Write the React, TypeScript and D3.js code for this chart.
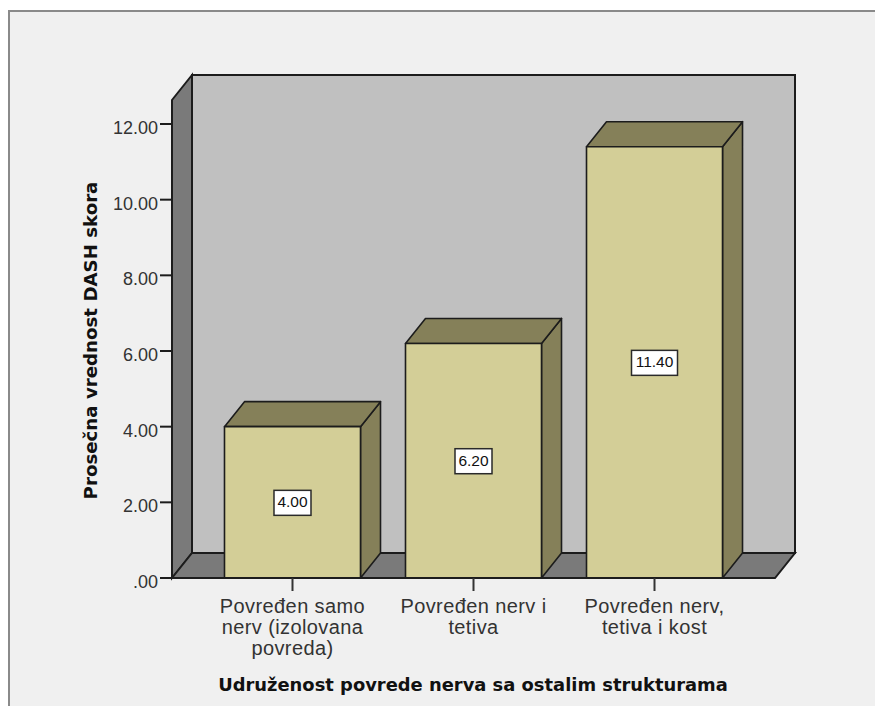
import React from "react";
import * as d3 from "d3";

const categories = ["Povređen samo nerv (izolovana povreda)", "Povređen nerv i tetiva", "Povređen nerv, tetiva i kost"];
const categoryLines = [["Povređen samo", "nerv (izolovana", "povreda)"], ["Povređen nerv i", "tetiva"], ["Povređen nerv,", "tetiva i kost"]];
const values = [4.0, 6.2, 11.4];
const yTicks = [0, 2, 4, 6, 8, 10, 12];
const yTitle = "Prosečna vrednost DASH skora";
const xTitle = "Udruženost povrede nerva sa ostalim strukturama";

const DX = 20;
const DY = 25;
const FLOOR = 578;
const LEFT = 172;
const RIGHT = 775;
const TOP = 100;

const y = d3.scaleLinear().domain([0, 12]).range([FLOOR, 124]);
const x = d3.scaleBand<string>().domain(categories).range([LEFT, RIGHT]).paddingInner(0.2486).paddingOuter(0.29);
const poly = (pts: [number, number][]) => (d3.line()(pts) ?? "") + "Z";

const SANS = "'Liberation Sans', Arial, sans-serif";
const BOLD = "'DejaVu Sans', Verdana, sans-serif";
const INK = "#1c1c1c";

export default function App() {
  return (
    <svg width={875} height={706} style={{ position: "absolute", left: 0, top: 0, display: "block" }}>
      <rect x={0} y={0} width={875} height={706} fill="#ffffff" />
      <rect x={9} y={11} width={880} height={710} fill="#f0f0f0" stroke="#8a8a8a" strokeWidth={2} />

      {/* back wall, side wall, floor */}
      <path d={poly([[LEFT + DX, TOP - DY], [RIGHT + DX, TOP - DY], [RIGHT + DX, FLOOR - DY], [LEFT + DX, FLOOR - DY]])} fill="#c0c0c0" stroke={INK} strokeWidth={2} />
      <path d={poly([[LEFT, TOP], [LEFT + DX, TOP - DY], [LEFT + DX, FLOOR - DY], [LEFT, FLOOR]])} fill="#7a7a7a" stroke={INK} strokeWidth={2} />
      <path d={poly([[LEFT, FLOOR], [LEFT + DX, FLOOR - DY], [RIGHT + DX, FLOOR - DY], [RIGHT, FLOOR]])} fill="#7a7a7a" stroke={INK} strokeWidth={2} />

      {/* y axis */}
      {yTicks.map((t) => (
        <g key={t}>
          <line x1={160} x2={LEFT} y1={y(t)} y2={y(t)} stroke={INK} strokeWidth={2} />
          <text x={158} y={y(t) + 10} textAnchor="end" fontFamily={SANS} fontSize={18} fill="#333">
            {t === 0 ? ".00" : t.toFixed(2)}
          </text>
        </g>
      ))}

      {/* bars */}
      {categories.map((c, i) => {
        const x0 = x(c)!;
        const x1 = x0 + x.bandwidth();
        const yt = y(values[i]);
        return (
          <g key={c} stroke={INK} strokeWidth={1.6} strokeLinejoin="round">
            <path d={poly([[x1, yt], [x1 + DX, yt - DY], [x1 + DX, FLOOR - DY], [x1, FLOOR]])} fill="#858059" />
            <path d={poly([[x0, yt], [x0 + DX, yt - DY], [x1 + DX, yt - DY], [x1, yt]])} fill="#858059" />
            <rect x={x0} y={yt} width={x.bandwidth()} height={FLOOR - yt} fill="#d3ce97" />
          </g>
        );
      })}

      <line x1={LEFT - 12} x2={RIGHT} y1={FLOOR} y2={FLOOR} stroke={INK} strokeWidth={2} />

      {/* x axis */}
      {categories.map((c, i) => {
        const cx = x(c)! + x.bandwidth() / 2;
        return (
          <g key={c}>
            <line x1={cx} x2={cx} y1={FLOOR} y2={591} stroke="#333" strokeWidth={2} />
            <text textAnchor="middle" fontFamily={SANS} fontSize={20} letterSpacing={0.4} fill="#333">
              {categoryLines[i].map((l, k) => (
                <tspan key={k} x={cx} y={612.7 + k * 21.3}>{l}</tspan>
              ))}
            </text>
          </g>
        );
      })}

      {/* value labels */}
      {categories.map((c, i) => {
        const cx = x(c)! + x.bandwidth() / 2;
        const cy = y(values[i] / 2);
        const w = values[i] >= 10 ? 46 : 37;
        return (
          <g key={c}>
            <rect x={cx - w / 2} y={cy - 12} width={w} height={25} fill="#ffffff" stroke="#2a2a2a" strokeWidth={1.5} />
            <text x={cx} y={cy + 1} textAnchor="middle" dominantBaseline="middle" fontFamily={SANS} fontSize={15.5} fill="#111">
              {values[i].toFixed(2)}
            </text>
          </g>
        );
      })}

      <text x={473} y={691} textAnchor="middle" fontFamily={BOLD} fontWeight="bold" fontSize={17.9} fill="#111">{xTitle}</text>
      <text transform="translate(97,340.5) rotate(-90)" textAnchor="middle" fontFamily={BOLD} fontWeight="bold" fontSize={18.2} fill="#111">{yTitle}</text>
    </svg>
  );
}
